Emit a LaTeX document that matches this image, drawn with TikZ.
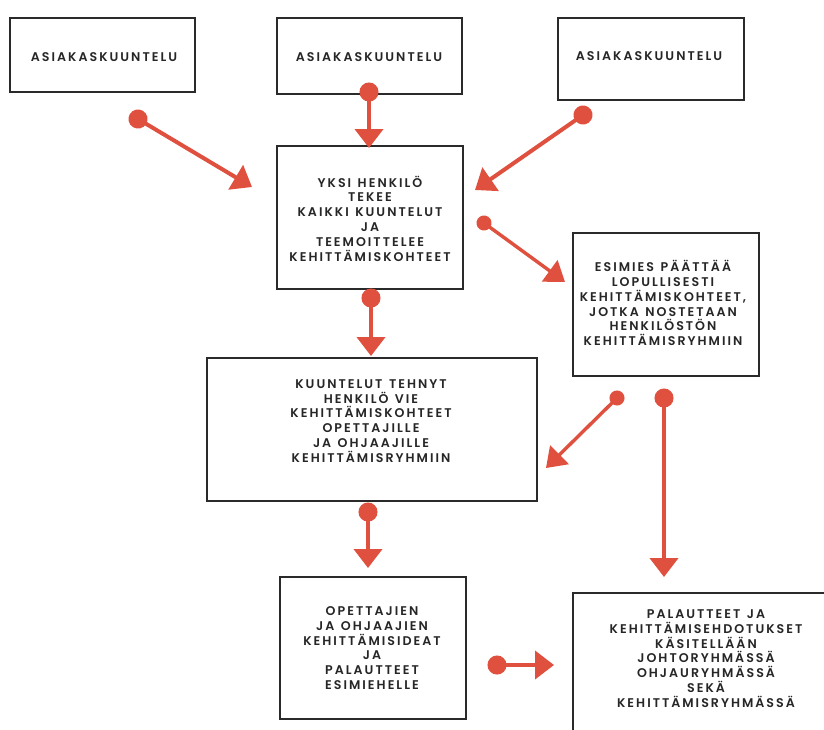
\documentclass[tikz,border=0pt]{standalone}
\usepackage{fontspec}
\newfontfamily\diagfont{Poppins SemiBold}[LetterSpace=16, WordSpace=1.3]
\usetikzlibrary{arrows.meta}
\definecolor{arrowred}{HTML}{E0503F}
\definecolor{boxline}{HTML}{2A2A2A}
\tikzset{
  box/.style={draw=boxline, line width=2.4pt, rectangle, inner sep=0pt},
  txt/.style={align=center, font=\diagfont\fontsize{12.6}{14.8}\selectfont, text=black!85, inner sep=0pt},
  conn/.style={draw=arrowred, line width=4pt,
    {Circle[length=19pt]}-{Triangle[length=19pt,width=28pt]}, shorten <=-9.5pt},
  connsmall/.style={draw=arrowred, line width=3.4pt,
    {Circle[length=15pt]}-{Triangle[length=19pt,width=26pt]}, shorten <=-7.5pt}
}
\begin{document}
\begin{tikzpicture}[x=1pt,y=-1pt]
  \clip (0,0) rectangle (824,729);
  \fill[white] (0,0) rectangle (824,729);

  % boxes
  \node[box, minimum width=185pt, minimum height=74pt] (tl) at (102.5,55) {};
  \node[box, minimum width=185pt, minimum height=76pt] (tm) at (369.5,56) {};
  \node[box, minimum width=186pt, minimum height=82pt] (tr) at (651,59) {};
  \node[box, minimum width=186pt, minimum height=143pt] (yksi) at (370,217.5) {};
  \node[box, minimum width=186pt, minimum height=143pt] (esimies) at (666,304.5) {};
  \node[box, minimum width=330pt, minimum height=143pt] (kuunt) at (372,429.5) {};
  \node[box, minimum width=186pt, minimum height=142pt] (opett) at (373,648) {};
  \node[box, minimum width=270pt, minimum height=150pt] (palaut) at (708,668) {};

  % texts
  \node[txt] (tlT) at (104,57) {ASIAKASKUUNTELU};
  \node[txt] (tmT) at (369,57) {ASIAKASKUUNTELU};
  \node[txt] (trT) at (649,56) {ASIAKASKUUNTELU};
  \node[txt] (yksiT) at (370,218.5) {YKSI HENKILÖ\\TEKEE\\KAIKKI KUUNTELUT\\JA\\TEEMOITTELEE\\KEHITTÄMISKOHTEET};
  \node[txt] (esimiesT) at (663,303) {ESIMIES PÄÄTTÄÄ\\LOPULLISESTI\\KEHITTÄMISKOHTEET,\\JOTKA NOSTETAAN\\HENKILÖSTÖN\\KEHITTÄMISRYHMIIN};
  \node[txt] (kuuntT) at (371,421) {KUUNTELUT TEHNYT\\HENKILÖ VIE\\KEHITTÄMISKOHTEET\\OPETTAJILLE\\JA OHJAAJILLE\\KEHITTÄMISRYHMIIN};
  \node[txt] (opettT) at (372,648) {OPETTAJIEN\\JA OHJAAJIEN\\KEHITTÄMISIDEAT\\JA\\PALAUTTEET\\ESIMIEHELLE};
  \node[txt] (palautT) at (706,658.5) {PALAUTTEET JA\\KEHITTÄMISEHDOTUKSET\\KÄSITELLÄÄN\\JOHTORYHMÄSSÄ\\OHJAURYHMÄSSÄ\\SEKÄ\\KEHITTÄMISRYHMÄSSÄ};

  % connector end points
  \coordinate (a1) at (138,119);  \coordinate (a2) at (252,187);
  \coordinate (b1) at (369,92);   \coordinate (b2) at (369,148);
  \coordinate (c1) at (583,115);  \coordinate (c2) at (475,190);
  \coordinate (d1) at (484,223);  \coordinate (d2) at (565,282);
  \coordinate (e1) at (371,298);  \coordinate (e2) at (371,356);
  \coordinate (f1) at (617,398);  \coordinate (f2) at (546,468);
  \coordinate (g1) at (664,398);  \coordinate (g2) at (664,577);
  \coordinate (h1) at (368,512);  \coordinate (h2) at (368,568);
  \coordinate (i1) at (497,665);  \coordinate (i2) at (554,665);

  % connectors
  \draw[conn] (a1) -- (a2);
  \draw[conn] (b1) -- (b2);
  \draw[conn] (c1) -- (c2);
  \draw[connsmall] (d1) -- (d2);
  \draw[conn] (e1) -- (e2);
  \draw[connsmall] (f1) -- (f2);
  \draw[conn] (g1) -- (g2);
  \draw[conn] (h1) -- (h2);
  \draw[conn] (i1) -- (i2);
\end{tikzpicture}
\end{document}
